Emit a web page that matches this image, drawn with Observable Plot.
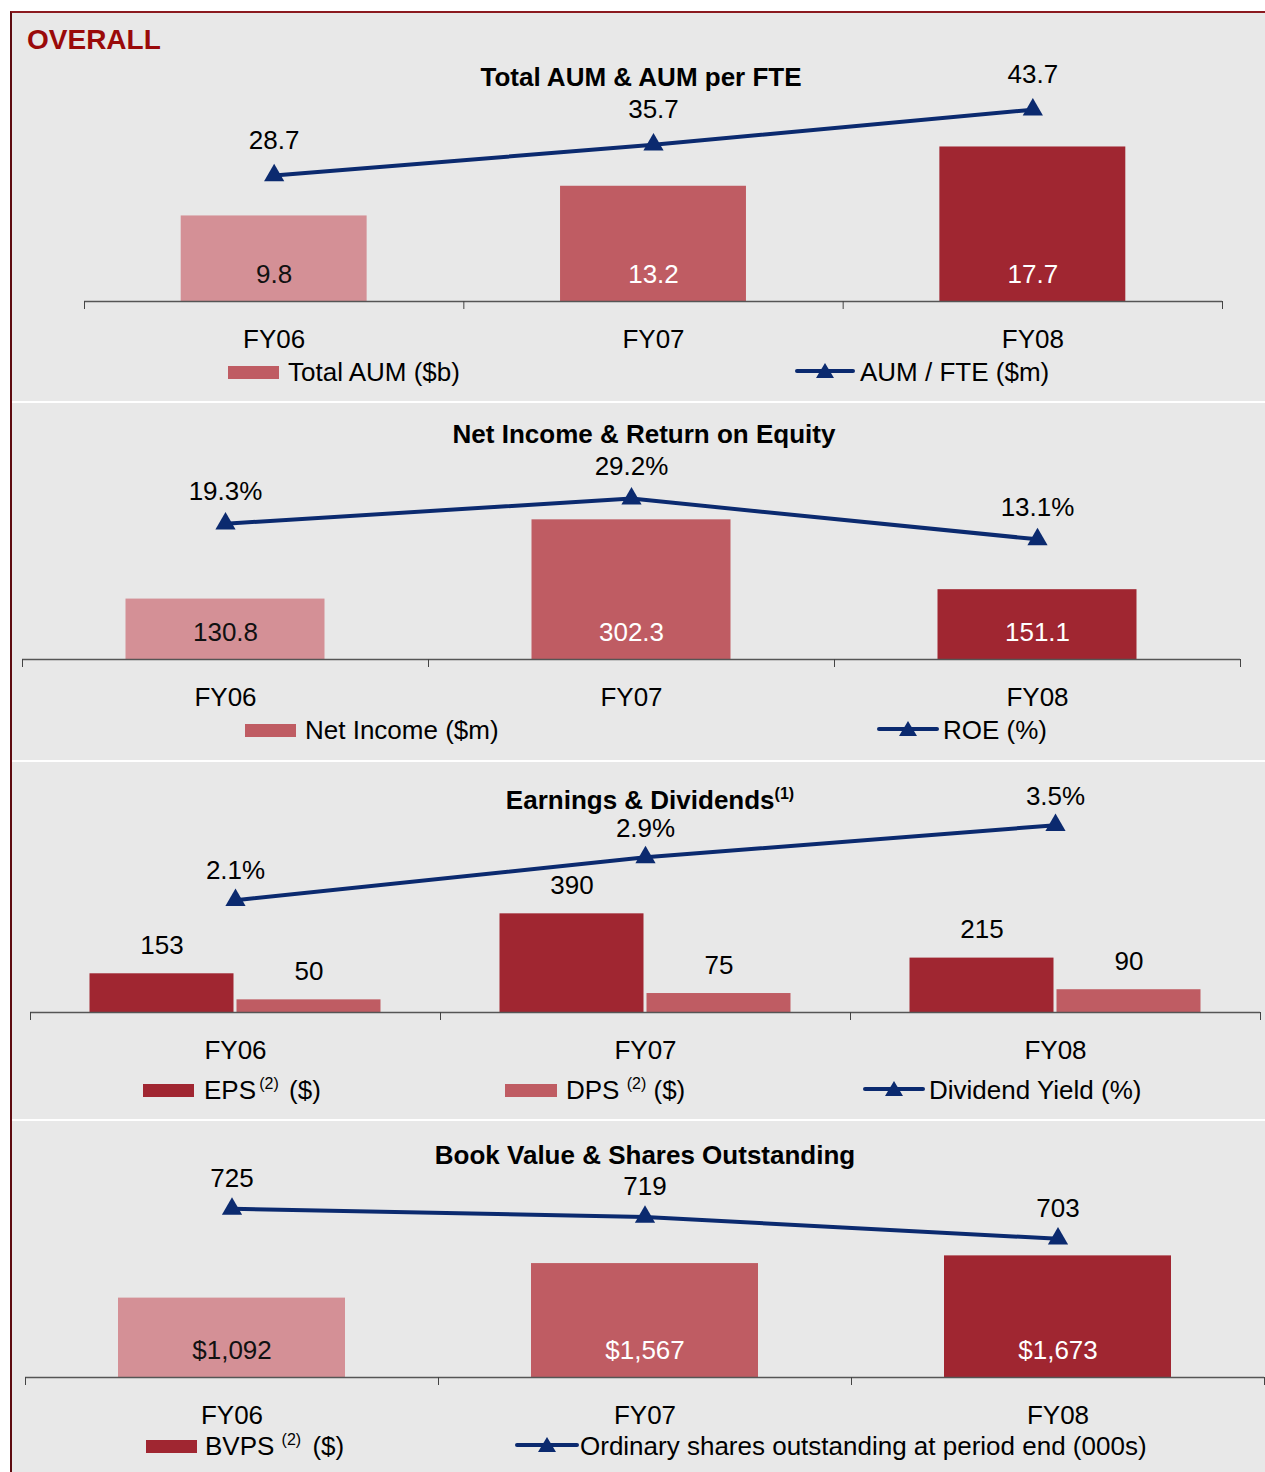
<!DOCTYPE html>
<html><head><meta charset="utf-8">
<script src="https://cdn.jsdelivr.net/npm/d3@7"></script>
<script src="https://cdn.jsdelivr.net/npm/@observablehq/plot@0.6"></script>
<style>
body{margin:0;background:#fff;font-family:"Liberation Sans",Arial,sans-serif;}
#page{position:relative;width:1265px;height:1472px;overflow:hidden;}
#bg{position:absolute;left:10px;top:11px;right:0;bottom:0;background:#e8e8e8;border-left:2px solid #5e0b10;border-top:2px solid #8b1a1f;}
.sep{position:absolute;left:12px;right:0;height:2px;background:#fff;}
.t{position:absolute;white-space:nowrap;font-size:26px;line-height:1;color:#000;}
.c{transform:translate(-50%,-50%);}
.l{transform:translateY(-50%);}
.b{font-weight:bold;}
.sup{font-size:16px;position:relative;top:-10px;}
.sw{position:absolute;height:13px;}
.li{position:absolute;}
.plot{position:absolute;left:0;}
</style></head>
<body><div id="page"><div id="bg"></div></div>
<script>
// ---------- data ----------
const categories = ["FY06", "FY07", "FY08"];
const totalAUM = [9.8, 13.2, 17.7];            // $b
const aumPerFTE = [28.7, 35.7, 43.7];          // $m
const netIncome = [130.8, 302.3, 151.1];       // $m
const roe = [19.3, 29.2, 13.1];                // %
const eps = [153, 390, 215];
const dps = [50, 75, 90];
const dividendYield = [2.1, 2.9, 3.5];         // %
const bvps = [1092, 1567, 1673];
const sharesOutstanding = [725, 719, 703];     // 000s

// ---------- styles ----------
const navy = "#0b2a6f";
const light = "#d49096", mid = "#bf5c63", dark = "#a02631";
const yearColors = [light, mid, dark];
const insideText = ["#111", "#fff", "#fff"];
const W = 1265;
const page = document.getElementById("page");

function makePanel(cfg) {
  const h = cfg.height;
  const y0 = cfg.axisY - cfg.top;
  const idx = categories.map((c, i) => i);
  const cx = i => i + 0.5;
  const lineY = i => (cfg.line.values[i] - cfg.lineMin) * cfg.linePx / cfg.barPx;
  const marks = [];
  for (const b of cfg.bars) {
    marks.push(Plot.rect(idx, {
      x1: i => i + b.span[0], x2: i => i + b.span[1],
      y1: () => 0, y2: i => b.values[i],
      fill: i => b.colors[i], insetLeft: b.inset[0], insetRight: b.inset[1]
    }));
    marks.push(Plot.text(idx, {
      x: cx, y: b.inside ? () => 0 : i => b.values[i],
      dx: b.dx || 0, dy: b.labelDy,
      text: i => b.format(b.values[i]),
      fill: i => b.labelColors ? b.labelColors[i] : "#000"
    }));
  }
  marks.push(Plot.ruleY([0], {stroke: "#555", strokeWidth: 1.5}));
  marks.push(Plot.axisX({ticks: [0, 1, 2, 3], tickFormat: () => "", tickSize: 8, stroke: "#444", anchor: "bottom", label: null}));
  marks.push(Plot.text(categories, {x: (d, i) => i + 0.5, y: () => 0, dy: 38, text: d => d, fill: "#000"}));
  marks.push(Plot.line(idx, {x: cx, y: lineY, stroke: navy, strokeWidth: 4}));
  marks.push(Plot.dot(idx, {x: cx, y: lineY, symbol: "triangle", r: 7.5, fill: navy, stroke: "none"}));
  marks.push(Plot.text(idx, {x: cx, y: lineY, dy: cfg.lineDy, text: i => cfg.line.format(cfg.line.values[i]), fill: "#000"}));

  const svg = Plot.plot({
    width: W, height: h,
    marginTop: 0, marginBottom: h - y0, marginLeft: cfg.left, marginRight: W - cfg.right,
    x: {domain: [0, 3], axis: null},
    y: {domain: [0, cfg.barMax], range: [y0, y0 - cfg.barMax * cfg.barPx], axis: null},
    color: {type: "identity"},
    style: {fontFamily: '"Liberation Sans", Arial, sans-serif', fontSize: "26px", background: "transparent", overflow: "visible", color: "#000"},
    marks
  });
  svg.classList.add("plot");
  svg.style.top = cfg.top + "px";
  page.appendChild(svg);
}

function txt(html, x, y, cls, extra) {
  const d = document.createElement("div");
  d.className = "t " + cls;
  d.style.left = x + "px"; d.style.top = y + "px";
  if (extra) d.style.cssText += extra;
  d.innerHTML = html;
  page.appendChild(d);
}
function swatch(x1, x2, y, color) {
  const d = document.createElement("div");
  d.className = "sw";
  d.style.left = x1 + "px"; d.style.width = (x2 - x1) + "px";
  d.style.top = (y - 6.5) + "px"; d.style.background = color;
  page.appendChild(d);
}
function lineIcon(x1, x2, y) {
  const w = x2 - x1;
  const ns = "http://www.w3.org/2000/svg";
  const s = document.createElementNS(ns, "svg");
  s.setAttribute("width", w); s.setAttribute("height", 22);
  s.setAttribute("class", "li");
  s.style.left = x1 + "px"; s.style.top = (y - 11) + "px";
  const m = w / 2;
  s.innerHTML = `<line x1="2" x2="${w - 2}" y1="11" y2="11" stroke="${navy}" stroke-width="4" stroke-linecap="round"/>
    <path d="M${m - 9},18 L${m + 9},18 L${m},3 Z" fill="${navy}"/>`;
  page.appendChild(s);
}
function sep(y) {
  const d = document.createElement("div");
  d.className = "sep"; d.style.top = y + "px";
  page.appendChild(d);
}

const f1 = d3.format(".1f");
const pct = v => f1(v) + "%";

// Panel 1
makePanel({
  top: 12, height: 389, axisY: 301, left: 84, right: 1222,
  barPx: 8.73, barMax: 30,
  bars: [{values: totalAUM, span: [0, 1], inset: [96.7, 96.7], colors: yearColors, inside: true, labelDy: -27, labelColors: insideText, format: f1}],
  line: {values: aumPerFTE, format: f1}, lineMin: 0, linePx: 4.39, lineDy: -35
});
// Panel 2
makePanel({
  top: 403, height: 357, axisY: 659, left: 22, right: 1240,
  barPx: 0.462, barMax: 500,
  bars: [{values: netIncome, span: [0, 1], inset: [103.5, 103.5], colors: yearColors, inside: true, labelDy: -27, labelColors: insideText, format: f1}],
  line: {values: roe, format: pct}, lineMin: -34.4, linePx: 2.53, lineDy: -32
});
// Panel 3
makePanel({
  top: 762, height: 357, axisY: 1012, left: 30, right: 1260,
  barPx: 0.253, barMax: 900,
  bars: [
    {values: eps, span: [0, 0.5], inset: [59.5, 1.5], colors: [dark, dark, dark], inside: false, dx: -73.5, labelDy: -28, format: d3.format("d")},
    {values: dps, span: [0.5, 1], inset: [1.5, 59.5], colors: [mid, mid, mid], inside: false, dx: 73.5, labelDy: -28, format: d3.format("d")}
  ],
  line: {values: dividendYield, format: pct}, lineMin: 0, linePx: 53.5, lineDy: -29
});
// Panel 4
makePanel({
  top: 1121, height: 351, axisY: 1377, left: 25, right: 1264,
  barPx: 0.0727, barMax: 3000,
  bars: [{values: bvps, span: [0, 1], inset: [93, 93], colors: yearColors, inside: true, labelDy: -27, labelColors: insideText, format: d3.format("$,")}],
  line: {values: sharesOutstanding, format: d3.format("d")}, lineMin: 601, linePx: 1.36, lineDy: -30
});

sep(401); sep(760); sep(1119);

// Titles
txt("OVERALL", 27, 40, "l b", "font-size:28px;color:#9a0a0a;");
txt("Total AUM &amp; AUM per FTE", 641, 77, "c b");
txt("Net Income &amp; Return on Equity", 644, 434, "c b");
txt('Earnings &amp; Dividends<span class="sup">(1)</span>', 650, 800, "c b");
txt("Book Value &amp; Shares Outstanding", 645, 1155, "c b");

// Legends
swatch(228, 279, 372, mid); txt("Total AUM ($b)", 288, 372, "l");
lineIcon(795, 855, 371); txt("AUM / FTE ($m)", 860, 372, "l");

swatch(245, 296, 730, mid); txt("Net Income ($m)", 305, 730, "l");
lineIcon(877, 939, 729); txt("ROE (%)", 943, 730, "l");

swatch(143, 194, 1090, dark); txt('EPS<span class="sup">&thinsp;(2)</span>&nbsp;<span style="margin-left:3px">($)</span>', 204, 1090, "l");
swatch(505, 557, 1090, mid); txt('DPS <span class="sup">(2)</span>&nbsp;($)', 566, 1090, "l");
lineIcon(863, 925, 1089); txt("Dividend Yield (%)", 929, 1090, "l");

swatch(146, 197, 1446, dark); txt('BVPS <span class="sup">(2)</span>&nbsp;<span style="margin-left:4px">($)</span>', 205, 1446, "l");
lineIcon(515, 579, 1445); txt("Ordinary shares outstanding at period end (000s)", 580, 1446, "l");
</script>
</body></html>
